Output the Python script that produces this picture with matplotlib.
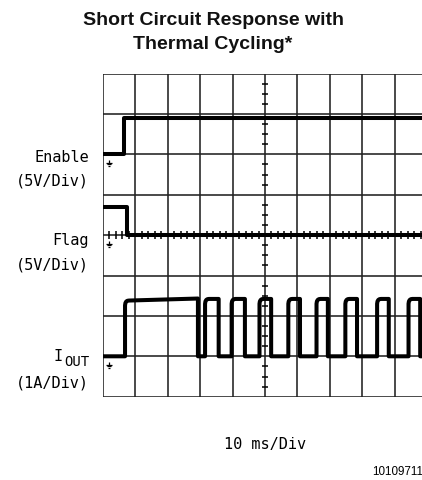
import numpy as np
import matplotlib
matplotlib.use("Agg")
import matplotlib.pyplot as plt
from matplotlib.path import Path
from matplotlib import transforms

# ---------------- data ----------------
# time axis: 10 ms/div, 10 divisions
TIME_PER_DIV_MS = 10.0
N_XDIV = 10
N_YDIV = 8

# Enable channel (5 V/div), ground at division 6
enable_t_ms = [0.0, 6.5, 6.5, 100.0]
enable_v = [0.0, 0.0, 4.5, 4.5]
ENABLE_VDIV = 5.0
ENABLE_GND_DIV = 6

# Flag channel (5 V/div), ground at division 4
flag_t_ms = [0.0, 7.5, 7.5, 100.0]
flag_v = [3.5, 3.5, 0.0, 0.0]
FLAG_VDIV = 5.0
FLAG_GND_DIV = 4

# Output current (1 A/div), ground at division 1
iout_on_ms = [6.8, 31.5, 39.7, 48.3, 57.2, 65.9, 74.8, 84.6, 94.3]
iout_off_ms = [29.3, 35.7, 43.8, 51.9, 60.8, 69.4, 78.4, 88.2, 97.9]
iout_start_a = [1.38, 1.42, 1.42, 1.42, 1.42, 1.42, 1.42, 1.42, 1.42]
iout_peak_a = [1.43, 1.42, 1.42, 1.42, 1.42, 1.42, 1.42, 1.42, 1.42]
IOUT_ADIV = 1.0
IOUT_GND_DIV = 1
CORNER_MS = 1.2  # rounding of the leading top corner

# ---------------- figure ----------------
W, H, DPI = 422, 481, 100
fig = plt.figure(figsize=(W / DPI, H / DPI), dpi=DPI)

left_px, top_px = 103, 74.5
divw, divh = 32.4, 40.4
ax = fig.add_axes([left_px / W, 1 - (top_px + N_YDIV * divh) / H,
                   N_XDIV * divw / W, N_YDIV * divh / H])
ax.set_xlim(0, N_XDIV)
ax.set_ylim(0, N_YDIV)
ax.axis("off")

grid_c = "#222222"
for i in range(N_XDIV + 1):
    ax.axvline(i, color=grid_c, lw=1.15, zorder=1)
for j in range(N_YDIV + 1):
    ax.axhline(j, color=grid_c, lw=1.15, zorder=1)

# centre graticule ticks
xt = np.arange(0, N_XDIV * 5 + 1) / 5.0
xt = xt[np.abs(xt - np.round(xt)) > 1e-6]
ax.plot(xt, np.full_like(xt, N_YDIV / 2), ls="none", marker="|",
        ms=6, mew=1.1, color="black", zorder=2)
yt = np.arange(0, N_YDIV * 4 + 1) / 4.0
yt = yt[np.abs(yt - np.round(yt)) > 1e-6]
ax.plot(np.full_like(yt, N_XDIV / 2), yt, ls="none", marker="_",
        ms=5, mew=1.1, color="black", zorder=2)

trace_kw = dict(color="black", lw=2.9, solid_joinstyle="round",
                solid_capstyle="butt", zorder=5)

# Enable
ax.plot(np.array(enable_t_ms) / TIME_PER_DIV_MS,
        np.array(enable_v) / ENABLE_VDIV + ENABLE_GND_DIV, **trace_kw)
# Flag
ax.plot(np.array(flag_t_ms) / TIME_PER_DIV_MS,
        np.array(flag_v) / FLAG_VDIV + FLAG_GND_DIV, **trace_kw)

# Iout waveform assembled from the pulse edges (rounded leading corner)
t_pts, a_pts = [0.0], [0.0]
for on, off, a0, a1 in zip(iout_on_ms, iout_off_ms, iout_start_a, iout_peak_a):
    t_pts += [on, on, on + CORNER_MS * 0.1, on + CORNER_MS * 0.3,
              on + CORNER_MS * 0.6, on + CORNER_MS, off, off]
    a_pts += [0.0, a0 - 0.12, a0 - 0.06, a0 - 0.025, a0 - 0.006, a0, a1, 0.0]
t_pts.append(100.0)
a_pts.append(0.0)
ax.plot(np.array(t_pts) / TIME_PER_DIV_MS,
        np.array(a_pts) / IOUT_ADIV + IOUT_GND_DIV, **trace_kw)

# ground symbols
gnd = Path([(0, 0), (0, -1.0), (-1.2, -1.0), (1.2, -1.0),
            (-0.75, -1.6), (0.75, -1.6), (-0.3, -2.2), (0.3, -2.2)],
           [Path.MOVETO, Path.LINETO, Path.MOVETO, Path.LINETO,
            Path.MOVETO, Path.LINETO, Path.MOVETO, Path.LINETO])
off_tr = transforms.offset_copy(ax.transData, fig=fig, x=0, y=-5.5, units="dots")
for g in (ENABLE_GND_DIV, FLAG_GND_DIV, IOUT_GND_DIV):
    ax.plot([0.17], [g], marker=gnd, ms=8, mew=0.9, color="black",
            ls="none", transform=off_tr, zorder=6)

# ---------------- text ----------------
def fx(px):
    return px / W

def fy(py):
    return 1 - py / H

mono = "DejaVu Sans Mono"
lab_kw = dict(family=mono, fontsize=11, ha="right", va="center", color="black")
fig.text(fx(89), fy(157.5), "Enable", **lab_kw)
fig.text(fx(89), fy(181.5), "(5V/Div)", **lab_kw)
fig.text(fx(89), fy(241), "Flag", **lab_kw)
fig.text(fx(89), fy(265.5), "(5V/Div)", **lab_kw)
fig.text(fx(63), fy(357), "I", **lab_kw)
fig.text(fx(89.5), fy(362), "OUT", family=mono, fontsize=10, ha="right",
         va="center", color="black")
fig.text(fx(89), fy(383), "(1A/Div)", **lab_kw)

fig.text(fx(265), fy(445), "10 ms/Div", family=mono, fontsize=11,
         ha="center", va="center", color="black")
fig.text(fx(372), fy(472), "10109711", family="Liberation Sans", fontsize=8.4,
         ha="left", va="center", color="black")

fig.text(fx(213), fy(32.5), "Short Circuit Response with\nThermal Cycling*",
         family="Liberation Sans", fontweight="bold", fontsize=14,
         ha="center", va="center", linespacing=1.55, color="#111111")

fig.savefig("out.png", dpi=DPI)
